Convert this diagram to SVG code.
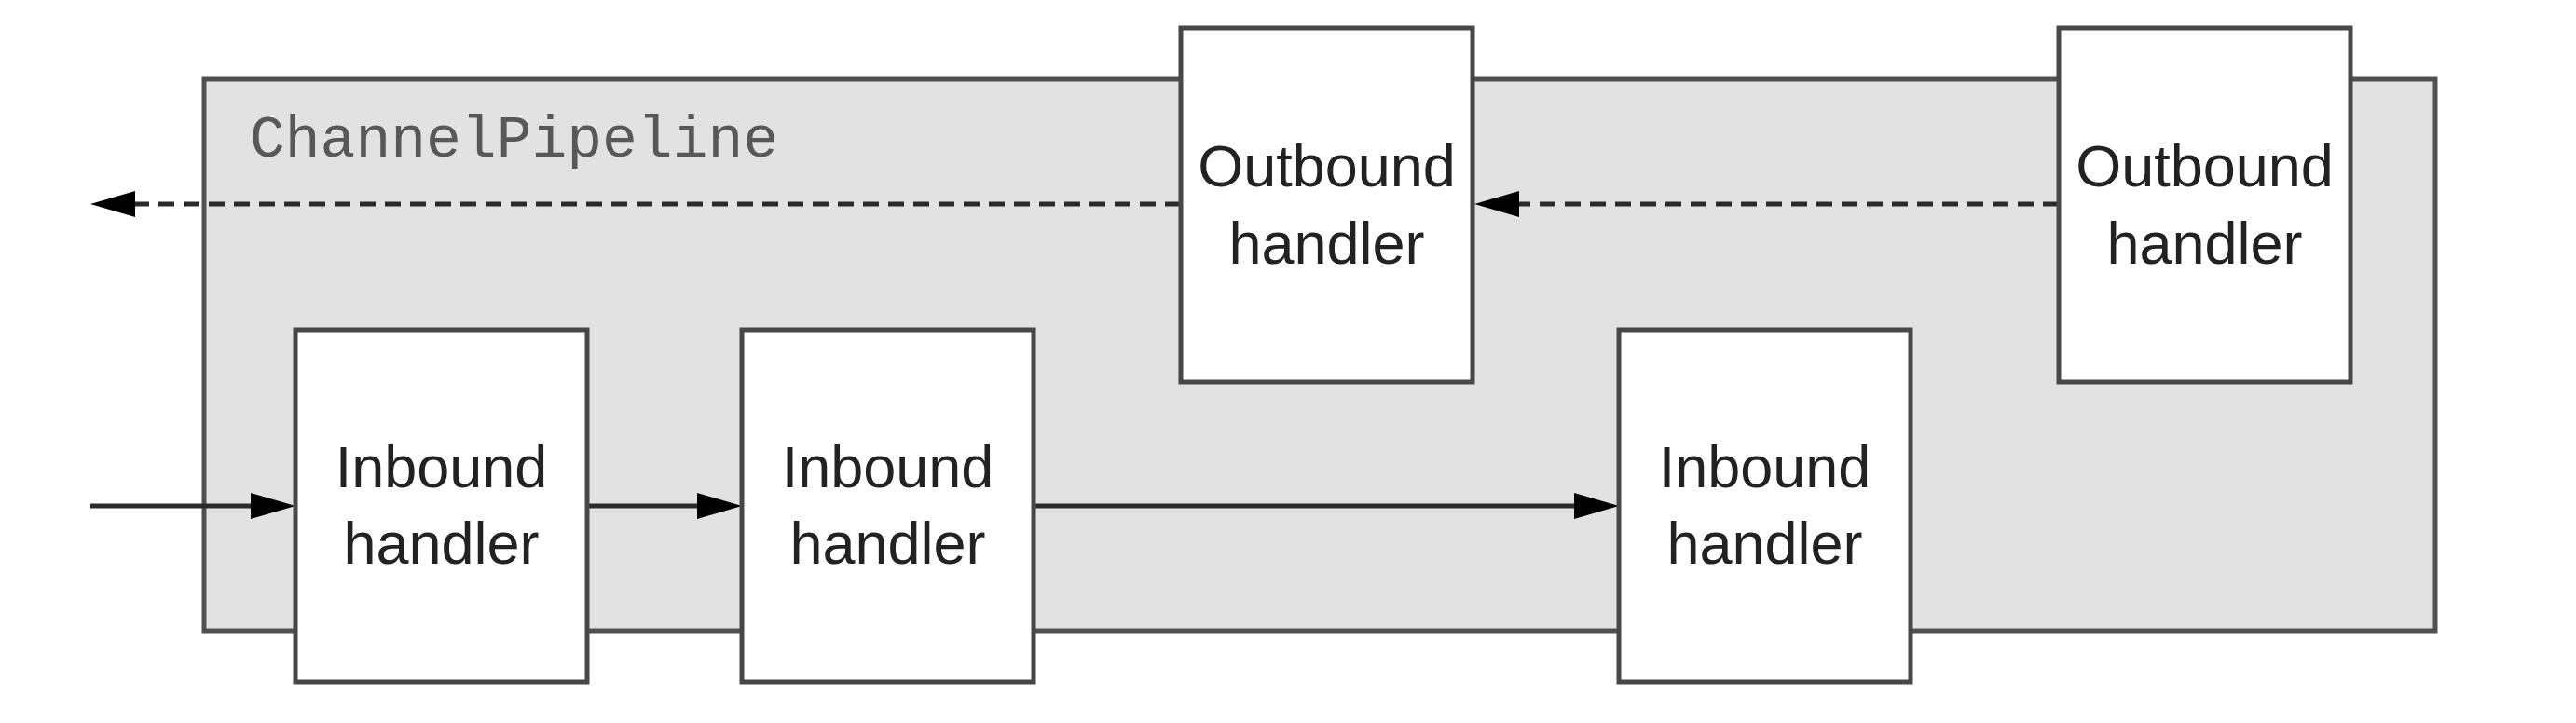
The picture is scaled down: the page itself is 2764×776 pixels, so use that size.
<svg xmlns="http://www.w3.org/2000/svg" width="2764" height="776" viewBox="0 0 2764 776">
  <style>
    .pipe { fill: #e2e2e2; stroke: #505050; stroke-width: 5; }
    .box { fill: #ffffff; stroke: #474747; stroke-width: 5; }
    .lbl { font-family: "Liberation Sans", Arial, sans-serif; font-size: 63px; fill: #222; text-anchor: middle; }
    .mono { font-family: "Liberation Mono", "Courier New", monospace; font-size: 63px; fill: #585858; }
    .flow { stroke: #2a2a2a; stroke-width: 5; fill: none; }
    .dash { stroke-dasharray: 17 10; }
  </style>
  <defs>
    <marker id="ah" markerUnits="userSpaceOnUse" markerWidth="48" markerHeight="32" viewBox="0 0 48 32" refX="28" refY="16" orient="auto">
      <path d="M0,2 L48,16 L0,30 z" fill="#000"/>
    </marker>
  </defs>

  <g id="pipeline">
    <rect class="pipe" x="219" y="85" width="2394" height="592"/>
    <text class="mono" x="268" y="168">ChannelPipeline</text>
  </g>

  <g id="connectors">
    <line class="flow dash" x1="1267" y1="219" x2="117" y2="219" marker-end="url(#ah)"/>
    <line class="flow dash" x1="2209" y1="219" x2="1602" y2="219" marker-end="url(#ah)"/>
    <line class="flow" x1="97" y1="543" x2="297" y2="543" marker-end="url(#ah)"/>
    <line class="flow" x1="630" y1="543" x2="776" y2="543" marker-end="url(#ah)"/>
    <line class="flow" x1="1109" y1="543" x2="1717" y2="543" marker-end="url(#ah)"/>
  </g>

  <g id="outbound1">
    <rect class="box" x="1267" y="30" width="313" height="380"/>
    <text class="lbl" x="1423.5" y="200">Outbound</text>
    <text class="lbl" x="1423.5" y="283">handler</text>
  </g>
  <g id="outbound2">
    <rect class="box" x="2209" y="30" width="313" height="380"/>
    <text class="lbl" x="2365.5" y="200">Outbound</text>
    <text class="lbl" x="2365.5" y="283">handler</text>
  </g>
  <g id="inbound1">
    <rect class="box" x="317" y="354" width="313" height="378"/>
    <text class="lbl" x="473.5" y="523">Inbound</text>
    <text class="lbl" x="473.5" y="605">handler</text>
  </g>
  <g id="inbound2">
    <rect class="box" x="796" y="354" width="313" height="378"/>
    <text class="lbl" x="952.5" y="523">Inbound</text>
    <text class="lbl" x="952.5" y="605">handler</text>
  </g>
  <g id="inbound3">
    <rect class="box" x="1737" y="354" width="313" height="378"/>
    <text class="lbl" x="1893.5" y="523">Inbound</text>
    <text class="lbl" x="1893.5" y="605">handler</text>
  </g>
</svg>
